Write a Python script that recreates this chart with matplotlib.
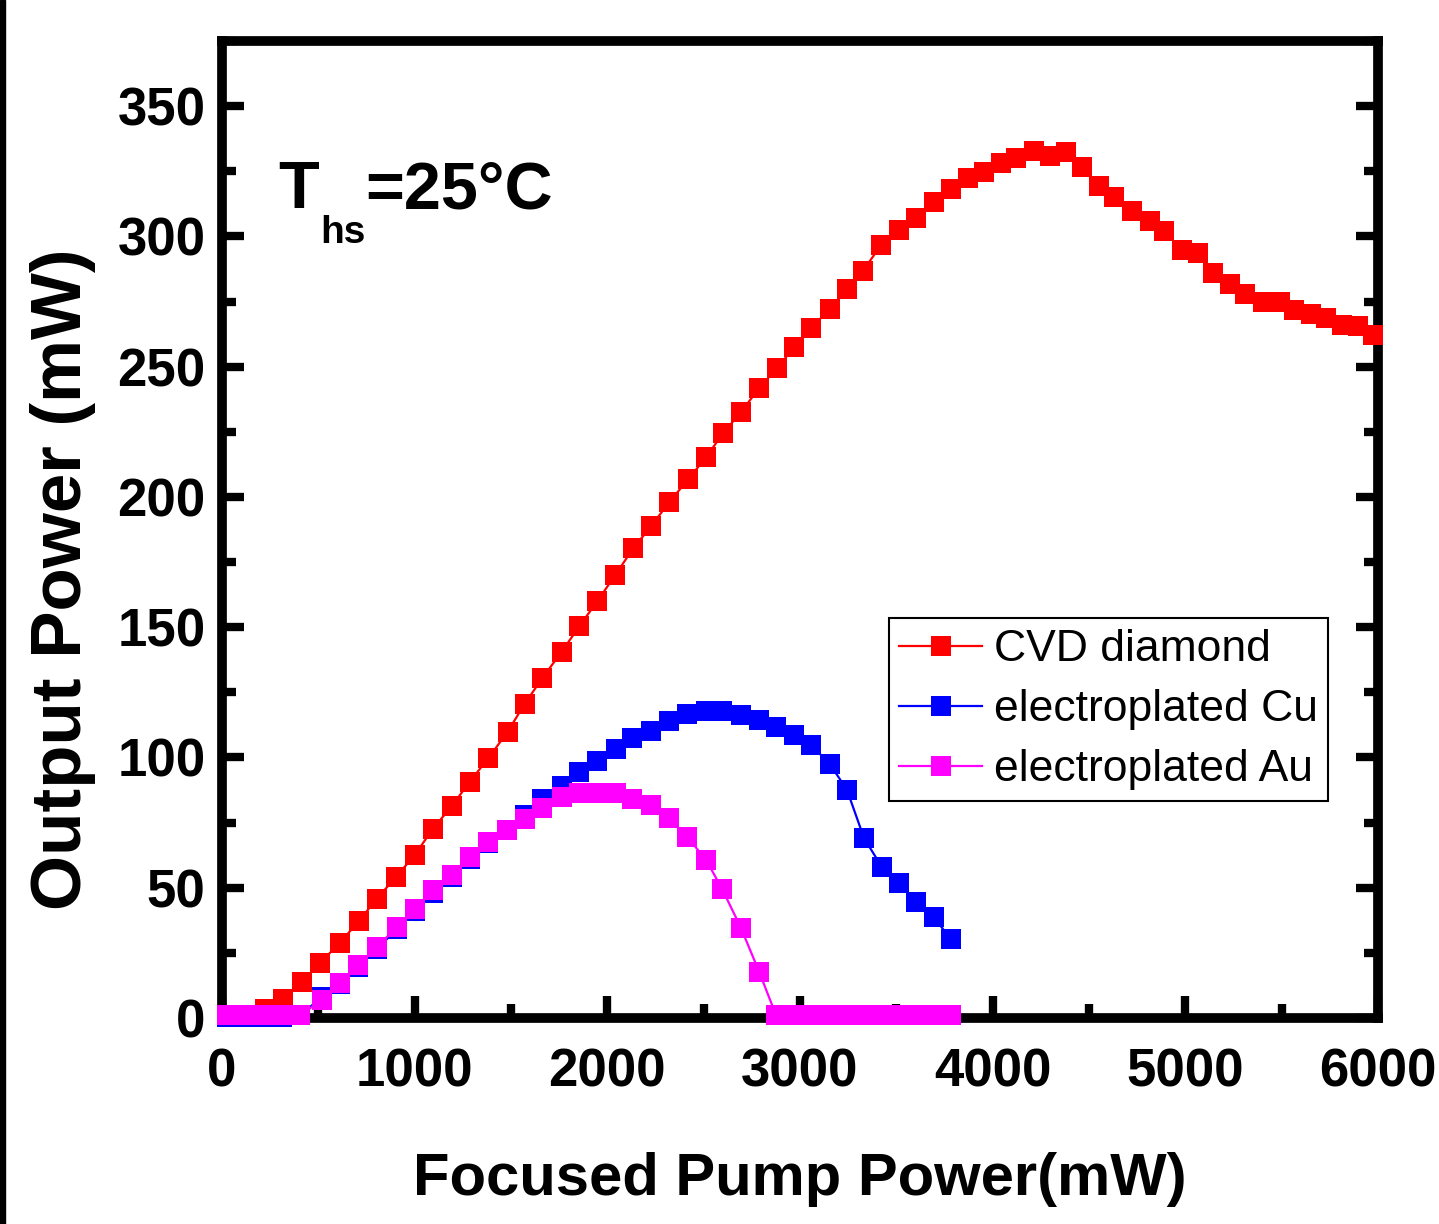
import matplotlib
matplotlib.use('Agg')
import matplotlib.pyplot as plt
from matplotlib.patches import Rectangle
from matplotlib.ticker import MultipleLocator

# Data (pump power in mW, output power in mW)
cvd_x = [223, 316, 415, 508, 611, 710, 803, 902, 1000, 1093,
         1192, 1285, 1383, 1482, 1570, 1663, 1762, 1855, 1948, 2041,
         2135, 2228, 2321, 2420, 2513, 2601, 2694, 2788, 2881, 2969,
         3057, 3155, 3244, 3326, 3420, 3513, 3601, 3694, 3782, 3870,
         3953, 4041, 4119, 4212, 4295, 4383, 4466, 4554, 4632, 4725,
         4819, 4891, 4984, 5067, 5145, 5233, 5311, 5404, 5492, 5565,
         5653, 5731, 5813, 5896, 5974]
cvd_y = [3.5, 7.3, 13.8, 21.1, 28.8, 37.2, 45.7, 54.1, 62.5, 72.5,
         81.3, 90.6, 99.8, 109.8, 120.5, 130.5, 140.5, 150.4, 160.0, 170.0,
         180.4, 188.8, 198.0, 206.8, 215.3, 224.5, 232.6, 241.8, 249.4, 257.5,
         264.8, 272.1, 279.8, 286.7, 296.6, 302.4, 307.0, 313.1, 318.1, 322.4,
         324.7, 328.1, 330.0, 332.7, 330.8, 332.3, 326.6, 319.3, 315.1, 309.7,
         305.8, 302.0, 294.7, 293.6, 285.9, 281.7, 277.8, 274.8, 274.8, 271.7,
         270.2, 268.6, 265.9, 265.6, 262.1]

plated_x = [26, 119, 212, 311, 404, 518, 611, 705, 803, 907,
            1000, 1093, 1192, 1285, 1383, 1477, 1570, 1663, 1762, 1855,
            1948, 2047, 2130, 2228, 2321, 2415, 2513, 2596, 2694, 2788,
            2876, 2969, 3057, 3155, 3244, 3332, 3425, 3513, 3601, 3694,
            3782]
cu_y = [0.5, 0.5, 0.5, 0.5, 1.0, 8.0, 13.0, 19.5, 26.5, 34.0,
        41.0, 48.0, 54.0, 61.0, 67.0, 72.0, 78.0, 84.0, 89.0, 94.4,
        98.6, 103.2, 107.4, 110.1, 114.0, 116.7, 117.8, 117.8, 116.3, 114.4,
        111.7, 108.6, 104.8, 97.5, 87.5, 69.1, 57.9, 51.8, 44.5, 38.8,
        30.3]
au_y = [1.0, 1.0, 1.0, 1.0, 1.0, 6.9, 13.4, 20.3, 27.2, 34.9,
        41.8, 49.1, 54.9, 61.8, 67.5, 72.1, 76.4, 80.6, 84.8, 86.3,
        86.3, 86.3, 84.0, 81.7, 76.8, 69.5, 60.6, 49.5, 34.5, 17.7,
        1.0, 1.0, 1.0, 1.0, 1.0, 1.0, 1.0, 1.0, 1.0, 1.0,
        1.0]

labels = ['CVD diamond', 'electroplated Cu', 'electroplated Au']
colors = ['#ff0000', '#0000ff', '#ff00ff']

plt.rcParams['font.family'] = ['Liberation Sans', 'DejaVu Sans']

fig = plt.figure(figsize=(14.39, 12.24), dpi=100)
ax = fig.add_axes([0.1543, 0.1683, 0.8033, 0.7982])

series = [(cvd_x, cvd_y), (plated_x, cu_y), (plated_x, au_y)]
for (xs, ys), lab, col in zip(series, labels, colors):
    ax.plot(xs, ys, '-s', color=col, lw=1.6, ms=14.5, mec=col, mew=0,
            label=lab, clip_on=False, zorder=3)

ax.set_xlim(0, 6000)
ax.set_ylim(0, 375)
ax.xaxis.set_major_locator(MultipleLocator(1000))
ax.xaxis.set_minor_locator(MultipleLocator(500))
ax.yaxis.set_major_locator(MultipleLocator(50))
ax.yaxis.set_minor_locator(MultipleLocator(25))

for s in ax.spines.values():
    s.set_linewidth(7)
ax.tick_params(which='both', direction='in', top=False, right=True, width=6)
ax.tick_params(which='major', length=16, labelsize=38)
ax.tick_params(axis='x', which='major', pad=21)
ax.tick_params(axis='y', which='major', pad=12)
ax.tick_params(which='minor', length=10)
for t in ax.get_xticklabels() + ax.get_yticklabels():
    t.set_fontweight('bold')

ax.set_xlabel('Focused Pump Power(mW)', fontsize=43, fontweight='bold')
ax.set_ylabel('Output Power (mW)', fontsize=51, fontweight='bold')
ax.xaxis.set_label_coords(0.5, -0.137)
ax.yaxis.set_label_coords(-0.109, 0.449)

# heat-sink temperature annotation
ax.text(0.049, 0.829, 'T', transform=ax.transAxes, fontsize=48,
        fontweight='bold', va='baseline', ha='left')
ax.text(0.0846, 0.793, 'hs', transform=ax.transAxes, fontsize=28,
        fontweight='bold', va='baseline', ha='left')
ax.text(0.1235, 0.829, '=25\u00b0C', transform=ax.transAxes, fontsize=48,
        fontweight='bold', va='baseline', ha='left')

leg = ax.legend(loc='upper right', bbox_to_anchor=(0.957, 0.409), fontsize=32,
                frameon=True, fancybox=False, edgecolor='black', framealpha=1,
                handlelength=1.85, handletextpad=0.27, labelspacing=0.43,
                borderpad=0.24, borderaxespad=0)
leg.get_frame().set_linewidth(1.5)

# dark strip along the left edge of the original picture
fig.patches.append(Rectangle((0, 0), 5 / 1439, 1, transform=fig.transFigure,
                             color='black', zorder=0))

fig.savefig('out.png', dpi=100, facecolor='white')
